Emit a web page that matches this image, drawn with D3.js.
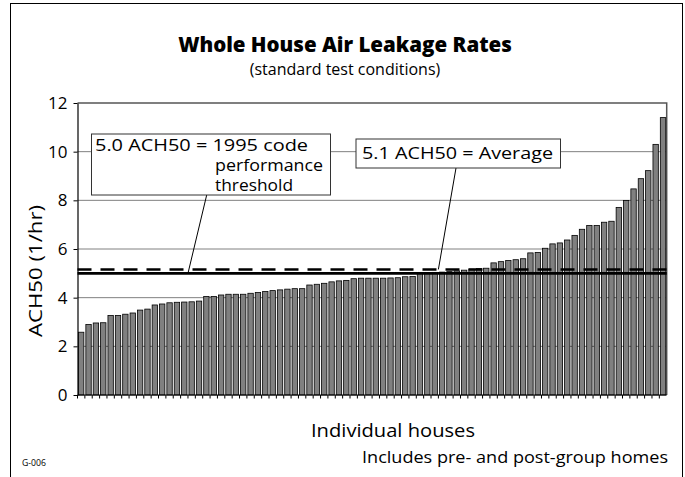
<!DOCTYPE html>
<html lang="en">
<head>
<meta charset="UTF-8">
<title>Whole House Air Leakage Rates</title>
<script src="https://d3js.org/d3.v7.min.js"></script>
<style>
  body { margin: 0; background: #fff; }
  svg text { font-family: "Open Sans", "Noto Sans", sans-serif; fill: #000; }
</style>
</head>
<body>
<div id="chart"></div>
<script>
// ACH50 for each tested house, sorted low to high
const houses = d3.range(1, 81);
const ach50 = [
  2.58, 2.90, 2.96, 2.97, 3.27, 3.27, 3.32, 3.37, 3.49, 3.53,
  3.70, 3.74, 3.79, 3.81, 3.82, 3.83, 3.86, 4.05, 4.05, 4.11,
  4.14, 4.14, 4.14, 4.18, 4.21, 4.25, 4.29, 4.32, 4.35, 4.37,
  4.37, 4.52, 4.55, 4.59, 4.65, 4.69, 4.71, 4.78, 4.80, 4.80,
  4.80, 4.80, 4.81, 4.82, 4.86, 4.87, 5.02, 5.03, 5.04, 5.05,
  5.07, 5.10, 5.13, 5.17, 5.20, 5.21, 5.43, 5.48, 5.53, 5.56,
  5.60, 5.84, 5.86, 6.03, 6.21, 6.25, 6.37, 6.56, 6.81, 6.97,
  6.97, 7.10, 7.14, 7.71, 7.99, 8.47, 8.89, 9.22, 10.30, 11.40
];
const yTicks = [0, 2, 4, 6, 8, 10, 12];
const codeThreshold = 5.0;
const averageLine = 5.16;   // dashed line as drawn; label shows it rounded

const width = 685, height = 477;
const margin = {top: 103, right: 18.3, bottom: 82, left: 77.5};

const svg = d3.select("#chart").append("svg")
  .attr("width", width)
  .attr("height", height);

// small helper: text stretched to the width it has in the original
function label(x0, y0, str, size, len, anchor) {
  return svg.append("text")
    .attr("x", x0).attr("y", y0)
    .attr("text-anchor", anchor || "start")
    .attr("textLength", len)
    .attr("lengthAdjust", "spacingAndGlyphs")
    .style("font-size", size + "px")
    .text(str);
}

// outer frame
svg.append("rect")
  .attr("x", 10.5).attr("y", 3.5)
  .attr("width", 672).attr("height", 490)
  .attr("fill", "none").attr("stroke", "#000");

const x = d3.scaleBand()
  .domain(houses)
  .range([margin.left, width - margin.right])
  .paddingInner(0.27)
  .paddingOuter(0.135);

const y = d3.scaleLinear()
  .domain([0, 12])
  .range([height - margin.bottom, margin.top]);

const edge = d => x(d) - x.step() * x.paddingInner() / 2;

// gridlines
svg.append("g")
  .selectAll("line")
  .data(yTicks.filter(d => d > 0 && d < 12))
  .enter().append("line")
  .attr("x1", margin.left).attr("x2", width - margin.right)
  .attr("y1", d => y(d)).attr("y2", d => y(d))
  .attr("stroke", "#808080").attr("stroke-width", 1);

// plot frame top + right
svg.append("path")
  .attr("d", `M${margin.left},${y(12)}H${width - margin.right}V${y(0)}`)
  .attr("fill", "none").attr("stroke", "#555").attr("stroke-width", 1.5);

// bars
svg.append("g")
  .selectAll("rect")
  .data(ach50)
  .enter().append("rect")
  .attr("x", (d, i) => x(houses[i]))
  .attr("y", d => y(d))
  .attr("width", x.bandwidth())
  .attr("height", d => y(0) - y(d))
  .attr("fill", "#808080")
  .attr("stroke", "#000")
  .attr("stroke-width", 0.8);

// x axis with ticks between houses
const xAxis = svg.append("g");
xAxis.append("line")
  .attr("x1", margin.left).attr("x2", width - margin.right)
  .attr("y1", y(0)).attr("y2", y(0))
  .attr("stroke", "#000").attr("stroke-width", 1.2);
xAxis.selectAll(".tick")
  .data(houses)
  .enter().append("line")
  .attr("x1", d => edge(d)).attr("x2", d => edge(d))
  .attr("y1", y(0)).attr("y2", y(0) + 3.5)
  .attr("stroke", "#000");

// y axis
const yAxis = svg.append("g")
  .attr("transform", `translate(${margin.left},0)`)
  .call(d3.axisLeft(y).tickValues(yTicks).tickSize(4).tickPadding(6).tickSizeOuter(0));
yAxis.select(".domain").attr("stroke", "#000").attr("stroke-width", 1.2);
yAxis.selectAll(".tick line").attr("stroke", "#000");
yAxis.selectAll(".tick text")
  .style("font-family", "'Open Sans', 'Noto Sans', sans-serif")
  .style("font-size", "17px");

// reference lines
svg.append("line")
  .attr("x1", margin.left).attr("x2", width - margin.right)
  .attr("y1", y(averageLine)).attr("y2", y(averageLine))
  .attr("stroke", "#000").attr("stroke-width", 2.6)
  .attr("stroke-dasharray", "14,9");
svg.append("line")
  .attr("x1", margin.left).attr("x2", width - margin.right)
  .attr("y1", y(codeThreshold)).attr("y2", y(codeThreshold))
  .attr("stroke", "#000").attr("stroke-width", 2.6);

// annotation: code threshold
svg.append("line")
  .attr("x1", 206.7).attr("y1", 195)
  .attr("x2", edge(16)).attr("y2", y(codeThreshold))
  .attr("stroke", "#000");
svg.append("rect")
  .attr("x", 91.5).attr("y", 134)
  .attr("width", 239).attr("height", 61)
  .attr("fill", "#fff").attr("stroke", "#333");
label(95, 151, "5.0 ACH50 = 1995 code", 16, 213);
label(215, 171, "performance", 16, 108);
label(215, 191, "threshold", 16, 78);

// annotation: average
svg.append("line")
  .attr("x1", 456).attr("y1", 168)
  .attr("x2", edge(50)).attr("y2", y(averageLine))
  .attr("stroke", "#000");
svg.append("rect")
  .attr("x", 356).attr("y", 139)
  .attr("width", 204.5).attr("height", 29)
  .attr("fill", "#fff").attr("stroke", "#333");
label(362, 159, `${d3.format(".1f")(d3.mean(ach50))} ACH50 = Average`, 16.5, 191);

// titles
svg.append("text")
  .attr("x", 345).attr("y", 52)
  .attr("text-anchor", "middle")
  .style("font-size", "20.5px").style("font-weight", "800")
  .text("Whole House Air Leakage Rates");
svg.append("text")
  .attr("x", 345).attr("y", 75)
  .attr("text-anchor", "middle")
  .style("font-size", "16px")
  .text("(standard test conditions)");

// axis titles
svg.append("text")
  .attr("transform", `translate(42,${(y(0) + y(12)) / 2 + 22}) rotate(-90)`)
  .attr("text-anchor", "middle")
  .attr("textLength", 132)
  .attr("lengthAdjust", "spacingAndGlyphs")
  .style("font-size", "18px")
  .text("ACH50 (1/hr)");
label(393, 437, "Individual houses", 17.5, 164, "middle");

// footnotes
label(22, 466, "G-006", 9.5, 24);
label(668, 463, "Includes pre- and post-group homes", 15.5, 306, "end");
</script>
</body>
</html>
